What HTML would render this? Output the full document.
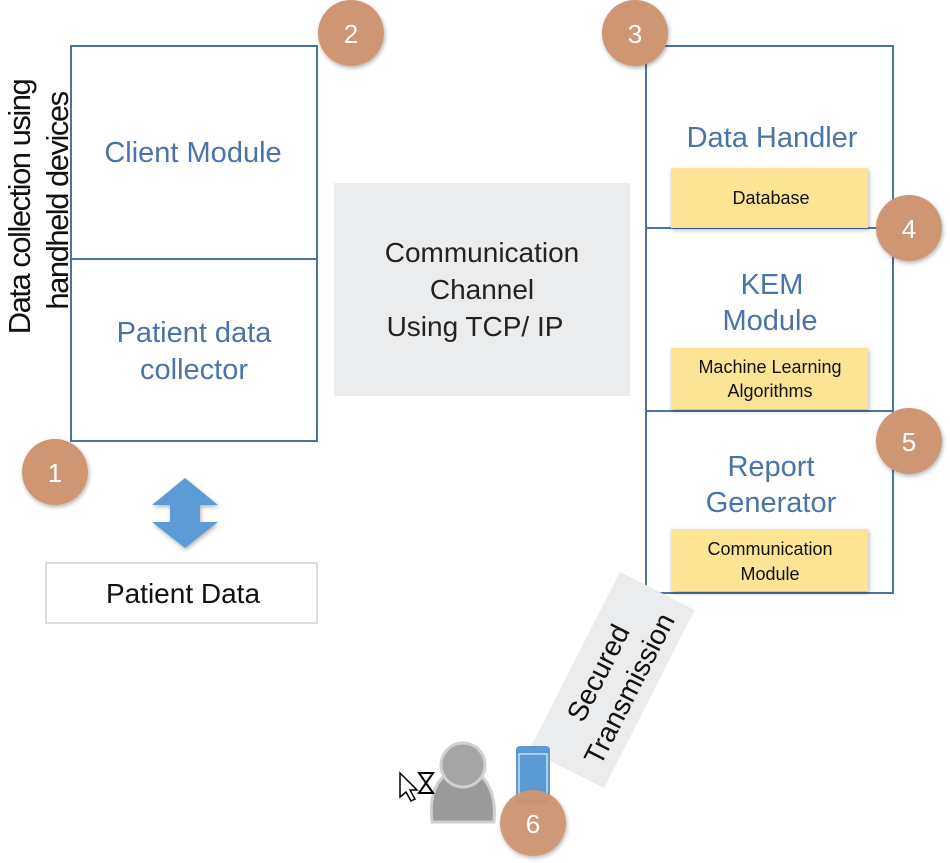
<!DOCTYPE html>
<html><head><style>body{margin:0;background:#fff}svg{display:block}</style></head>
<body>
<svg width="950" height="863" viewBox="0 0 950 863" xmlns="http://www.w3.org/2000/svg" font-family="Liberation Sans, sans-serif">
<defs><filter id="sh" x="-30%" y="-30%" width="160%" height="160%"><feDropShadow dx="1" dy="2" stdDeviation="2" flood-opacity="0.3"/></filter></defs>
<rect x="334" y="183" width="296" height="213" fill="#ebeced"/>
<text font-size="28" fill="#222" text-anchor="middle"><tspan x="482" y="262">Communication</tspan><tspan x="482" y="299">Channel</tspan><tspan x="475" y="336">Using TCP/ IP</tspan></text>
<rect x="71" y="46" width="246" height="395" fill="#fff" stroke="#4a74a8" stroke-width="2"/>
<line x1="71" y1="259" x2="317" y2="259" stroke="#4a74a8" stroke-width="2"/>
<text font-size="29" fill="#4a74a8" text-anchor="middle"><tspan x="193" y="162">Client Module</tspan><tspan x="194" y="342">Patient data</tspan><tspan x="194" y="379">collector</tspan></text>
<text font-size="31" fill="#111" text-anchor="middle" letter-spacing="-1.5" transform="translate(30,207) rotate(-90)">Data collection using</text>
<text font-size="31" fill="#111" text-anchor="middle" letter-spacing="-1.5" transform="translate(68,201) rotate(-90)">handheld devices</text>
<rect x="646" y="46" width="247" height="547" fill="#fff" stroke="#4a74a8" stroke-width="2"/>
<line x1="646" y1="228" x2="893" y2="228" stroke="#4a74a8" stroke-width="2"/>
<line x1="646" y1="411" x2="893" y2="411" stroke="#4a74a8" stroke-width="2"/>
<text font-size="29" fill="#4a74a8" text-anchor="middle"><tspan x="772" y="147">Data Handler</tspan><tspan x="772" y="294">KEM</tspan><tspan x="770" y="330">Module</tspan><tspan x="771" y="476">Report</tspan><tspan x="771" y="512">Generator</tspan></text>
<g filter="url(#sh)" fill="#fde394">
<rect x="671" y="168" width="197" height="60"/>
<rect x="671" y="348" width="197" height="61"/>
<rect x="671" y="529" width="197" height="62"/>
</g>
<text font-size="18" fill="#111" text-anchor="middle"><tspan x="771" y="204">Database</tspan><tspan x="770" y="373">Machine Learning</tspan><tspan x="770" y="397">Algorithms</tspan><tspan x="770" y="555">Communication</tspan><tspan x="770" y="580">Module</tspan></text>
<rect x="46" y="563" width="271" height="60" fill="#fff" stroke="#ddd" stroke-width="2"/>
<text x="183" y="603" font-size="28" fill="#111" text-anchor="middle">Patient Data</text>
<polygon points="185,478 218,505 200,505 200,522 218,522 185,548 152,522 170,522 170,505 152,505" fill="#5b9bd5" filter="url(#sh)"/>
<g transform="translate(612,680) rotate(-63)">
<rect x="-100" y="-42" width="200" height="84" fill="#ebeced"/>
<text font-size="28" fill="#111" text-anchor="middle"><tspan x="0" y="-6">Secured</tspan><tspan x="0" y="29">Transmission</tspan></text>
</g>
<g>
<path d="M432,822 Q428,790 445,775 Q462,770 480,775 Q497,790 494,822 Z" fill="#9a9a9a" stroke="#d0d0d0" stroke-width="3"/>
<circle cx="463" cy="765" r="22" fill="#a5a5a5" stroke="#d0d0d0" stroke-width="3"/>
</g>
<path d="M400,773 L400,797 L406,792 L411,801 L415,799 L410,790 L417,790 Z" fill="#fff" stroke="#000" stroke-width="1.5"/>
<path d="M419,773 h14 l-7,10 l7,10 h-14 l7,-10 z" fill="#fff" stroke="#000" stroke-width="2"/>
<rect x="516" y="746" width="34" height="58" rx="4" fill="#5b9bd5"/>
<rect x="519" y="754" width="28" height="42" fill="none" stroke="#fff" stroke-width="1"/>
<g fill="#cf9673" filter="url(#sh)">
<circle cx="351" cy="33" r="33"/>
<circle cx="635" cy="33" r="33"/>
<circle cx="909" cy="228" r="33"/>
<circle cx="909" cy="441" r="33"/>
<circle cx="55" cy="472" r="33"/>
<circle cx="533" cy="823" r="33" fill-opacity="0.95"/>
</g>
<text font-size="26" fill="#fff" text-anchor="middle"><tspan x="351" y="43">2</tspan><tspan x="635" y="43">3</tspan><tspan x="909" y="238">4</tspan><tspan x="909" y="451">5</tspan><tspan x="55" y="482">1</tspan><tspan x="533" y="833">6</tspan></text>
</svg>
</body></html>
